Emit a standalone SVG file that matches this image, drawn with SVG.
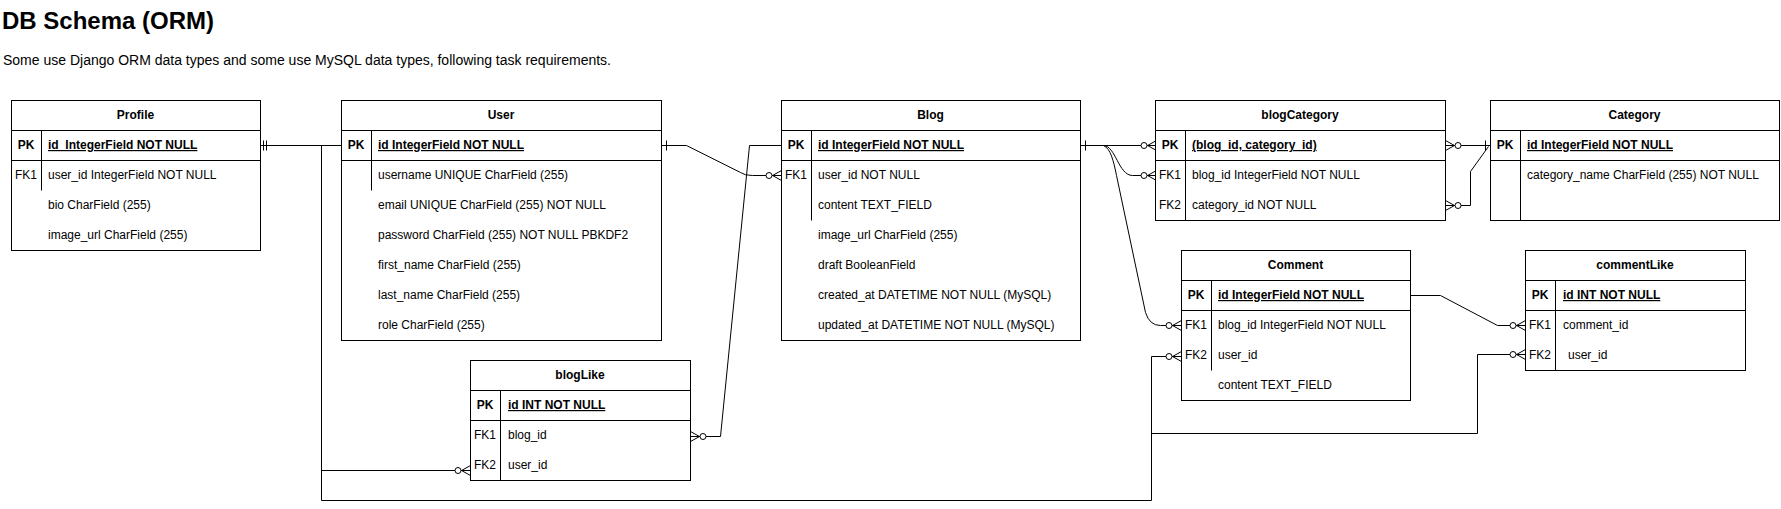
<svg xmlns="http://www.w3.org/2000/svg" width="1781" height="509" viewBox="0 0 1781 509">
<style>
.bx{fill:#fff;stroke:#000;stroke-width:1}
.ln{stroke:#000;stroke-width:1;fill:none}
.t{font-family:"Liberation Sans",Arial,Helvetica,sans-serif;font-size:12px;fill:#000}
.h{font-weight:bold;text-anchor:middle}
.kb{font-weight:bold;text-anchor:middle}
.k{text-anchor:middle}
.pk{font-weight:bold;text-decoration:underline}
.e{stroke:#000;stroke-width:1;fill:none}
</style>
<defs>
<marker id="zm" markerUnits="userSpaceOnUse" orient="auto-start-reverse" refX="0" refY="0" markerWidth="40" markerHeight="40" viewBox="-20 -20 40 40" overflow="visible">
<path d="M-9,0 L0,-5 M-9,0 L0,5 M-9,0 L0,0" stroke="#000" fill="none" stroke-width="1"/>
<circle cx="-12.5" cy="0" r="3" fill="#fff" stroke="#000" stroke-width="1"/>
</marker>
<marker id="one" markerUnits="userSpaceOnUse" orient="auto-start-reverse" refX="0" refY="0" markerWidth="40" markerHeight="40" viewBox="-20 -20 40 40" overflow="visible">
<path d="M-5,-5 L-5,5" stroke="#000" fill="none" stroke-width="1"/>
</marker>
<marker id="mone" markerUnits="userSpaceOnUse" orient="auto-start-reverse" refX="0" refY="0" markerWidth="40" markerHeight="40" viewBox="-20 -20 40 40" overflow="visible">
<path d="M-3,-5 L-3,5 M-6,-5 L-6,5" stroke="#000" fill="none" stroke-width="1"/>
</marker>
</defs>
<rect x="0" y="0" width="1781" height="509" fill="#fff"/>
<text x="2" y="29" font-family="'Liberation Sans',Arial,Helvetica,sans-serif" font-size="24" font-weight="bold" fill="#000">DB Schema (ORM)</text>
<text x="3" y="65" font-family="'Liberation Sans',Arial,Helvetica,sans-serif" font-size="14" fill="#000">Some use Django ORM data types and some use MySQL data types, following task requirements.</text>

<g id="connectors" transform="translate(0.5,0.5)">
<path class="e" d="M260,145 H341" marker-start="url(#mone)"/>
<path class="e" d="M321,145 V500 H1151 V356 H1181" marker-end="url(#zm)"/>
<path class="e" d="M321,470 H470" marker-end="url(#zm)"/>
<path class="e" d="M1151,433 H1477 V354 H1525" marker-end="url(#zm)"/>
<path class="e" d="M661,145 H686 L740,172 Q744,175 752,175 H781" marker-start="url(#one)" marker-end="url(#zm)"/>
<path class="e" d="M690,436 H720 L749,145 H781" marker-start="url(#zm)"/>
<path class="e" d="M1080,145 H1156" marker-start="url(#one)" marker-end="url(#zm)"/>
<path class="e" d="M1103,145 C1115,145 1118,175 1132,175 H1156" marker-end="url(#zm)"/>
<path class="e" d="M1103,145 C1110,148 1113,160 1116,175 L1145,312 Q1149,325 1160,325 H1181" marker-end="url(#zm)"/>
<path class="e" d="M1410,295 H1440 L1497,325 H1525" marker-end="url(#zm)"/>
<path class="e" d="M1445,145 H1490" marker-start="url(#zm)" marker-end="url(#one)"/>
<path class="e" d="M1445,205 H1470 V171 L1488,146" marker-start="url(#zm)"/>
</g>

<g id="Profile">
<g transform="translate(0.5,0.5)">
<rect class="bx" x="11" y="100" width="249" height="150"/>
<path class="ln" d="M11,130 H260 M11,160 H260 M41,130 V190"/>
</g>
<text class="t h" x="135.5" y="119">Profile</text>
<text class="t kb" x="26" y="149">PK</text>
<text class="t pk" x="48" y="149">id_IntegerField NOT NULL</text>
<text class="t k" x="26" y="179">FK1</text>
<text class="t" x="48" y="179">user_id IntegerField NOT NULL</text>
<text class="t" x="48" y="209">bio CharField (255)</text>
<text class="t" x="48" y="239">image_url CharField (255)</text>
</g>

<g id="User">
<g transform="translate(0.5,0.5)">
<rect class="bx" x="341" y="100" width="320" height="240"/>
<path class="ln" d="M341,130 H661 M341,160 H661 M371,130 V190"/>
</g>
<text class="t h" x="501" y="119">User</text>
<text class="t kb" x="356" y="149">PK</text>
<text class="t pk" x="378" y="149">id IntegerField NOT NULL</text>
<text class="t" x="378" y="179">username UNIQUE CharField (255)</text>
<text class="t" x="378" y="209">email UNIQUE CharField (255) NOT NULL</text>
<text class="t" x="378" y="239">password CharField (255) NOT NULL PBKDF2</text>
<text class="t" x="378" y="269">first_name CharField (255)</text>
<text class="t" x="378" y="299">last_name CharField (255)</text>
<text class="t" x="378" y="329">role CharField (255)</text>
</g>

<g id="Blog">
<g transform="translate(0.5,0.5)">
<rect class="bx" x="781" y="100" width="299" height="240"/>
<path class="ln" d="M781,130 H1080 M781,160 H1080 M811,130 V220"/>
</g>
<text class="t h" x="930.5" y="119">Blog</text>
<text class="t kb" x="796" y="149">PK</text>
<text class="t pk" x="818" y="149">id IntegerField NOT NULL</text>
<text class="t k" x="796" y="179">FK1</text>
<text class="t" x="818" y="179">user_id NOT NULL</text>
<text class="t" x="818" y="209">content TEXT_FIELD</text>
<text class="t" x="818" y="239">image_url CharField (255)</text>
<text class="t" x="818" y="269">draft BooleanField</text>
<text class="t" x="818" y="299">created_at DATETIME NOT NULL (MySQL)</text>
<text class="t" x="818" y="329">updated_at DATETIME NOT NULL (MySQL)</text>
</g>

<g id="blogCategory">
<g transform="translate(0.5,0.5)">
<rect class="bx" x="1155" y="100" width="290" height="120"/>
<path class="ln" d="M1155,130 H1445 M1155,160 H1445 M1185,130 V220"/>
</g>
<text class="t h" x="1300" y="119">blogCategory</text>
<text class="t kb" x="1170" y="149">PK</text>
<text class="t pk" x="1192" y="149">(blog_id, category_id)</text>
<text class="t k" x="1170" y="179">FK1</text>
<text class="t" x="1192" y="179">blog_id IntegerField NOT NULL</text>
<text class="t k" x="1170" y="209">FK2</text>
<text class="t" x="1192" y="209">category_id NOT NULL</text>
</g>

<g id="Category">
<g transform="translate(0.5,0.5)">
<rect class="bx" x="1490" y="100" width="289" height="120"/>
<path class="ln" d="M1490,130 H1779 M1490,160 H1779 M1520,130 V220"/>
</g>
<text class="t h" x="1634.5" y="119">Category</text>
<text class="t kb" x="1505" y="149">PK</text>
<text class="t pk" x="1527" y="149">id IntegerField NOT NULL</text>
<text class="t" x="1527" y="179">category_name CharField (255) NOT NULL</text>
</g>

<g id="Comment">
<g transform="translate(0.5,0.5)">
<rect class="bx" x="1181" y="250" width="229" height="150"/>
<path class="ln" d="M1181,280 H1410 M1181,310 H1410 M1211,280 V370"/>
</g>
<text class="t h" x="1295.5" y="269">Comment</text>
<text class="t kb" x="1196" y="299">PK</text>
<text class="t pk" x="1218" y="299">id IntegerField NOT NULL</text>
<text class="t k" x="1196" y="329">FK1</text>
<text class="t" x="1218" y="329">blog_id IntegerField NOT NULL</text>
<text class="t k" x="1196" y="359">FK2</text>
<text class="t" x="1218" y="359">user_id</text>
<text class="t" x="1218" y="389">content TEXT_FIELD</text>
</g>

<g id="commentLike">
<g transform="translate(0.5,0.5)">
<rect class="bx" x="1525" y="250" width="220" height="120"/>
<path class="ln" d="M1525,280 H1745 M1525,310 H1745 M1555,280 V370"/>
</g>
<text class="t h" x="1635" y="269">commentLike</text>
<text class="t kb" x="1540" y="299">PK</text>
<text class="t pk" x="1563" y="299">id INT NOT NULL</text>
<text class="t k" x="1540" y="329">FK1</text>
<text class="t" x="1563" y="329">comment_id</text>
<text class="t k" x="1540" y="359">FK2</text>
<text class="t" x="1568" y="359">user_id</text>
</g>

<g id="blogLike">
<g transform="translate(0.5,0.5)">
<rect class="bx" x="470" y="360" width="220" height="120"/>
<path class="ln" d="M470,390 H690 M470,420 H690 M500,390 V480"/>
</g>
<text class="t h" x="580" y="379">blogLike</text>
<text class="t kb" x="485" y="409">PK</text>
<text class="t pk" x="508" y="409">id INT NOT NULL</text>
<text class="t k" x="485" y="439">FK1</text>
<text class="t" x="508" y="439">blog_id</text>
<text class="t k" x="485" y="469">FK2</text>
<text class="t" x="508" y="469">user_id</text>
</g>
</svg>
